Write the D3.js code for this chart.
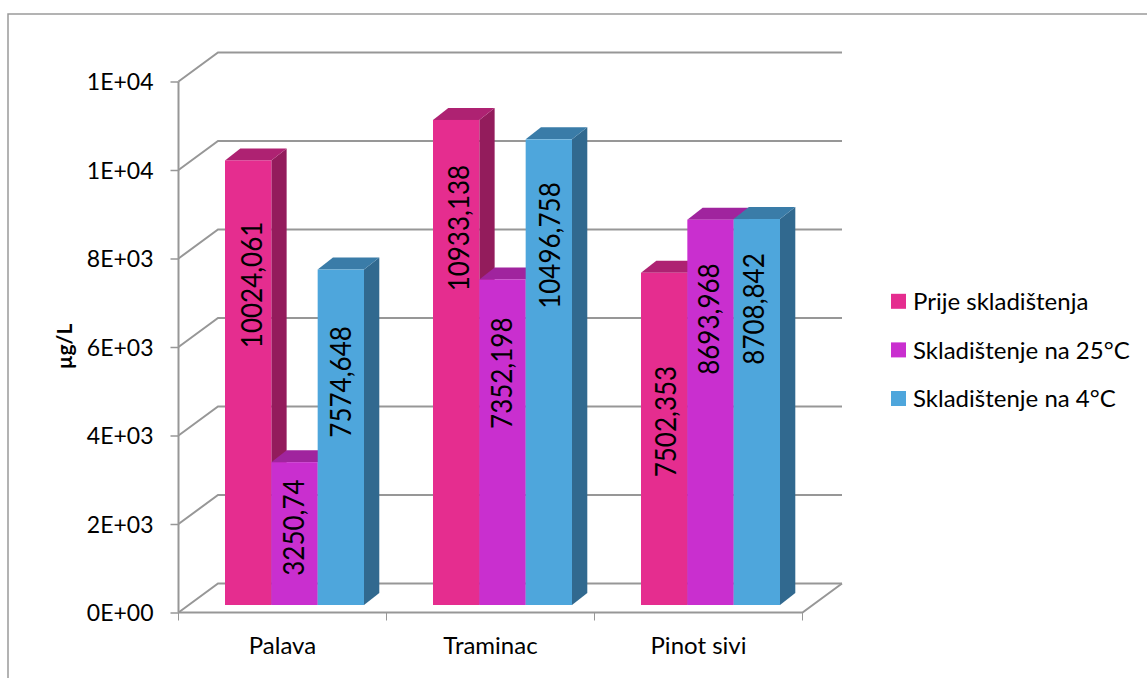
<!DOCTYPE html>
<html>
<head>
<meta charset="utf-8">
<style>
  html, body { margin: 0; padding: 0; background: #fff; }
  svg { display: block; }
  text { font-family: Lato, "Noto Sans", sans-serif; fill: #000; }
</style>
<script src="https://cdnjs.cloudflare.com/ajax/libs/d3/7.8.5/d3.min.js"></script>
</head>
<body>
<svg id="chart" width="1147" height="678"></svg>
<script>
  var categories = ['Palava', 'Traminac', 'Pinot sivi'];
  var seriesNames = ['Prije skladištenja', 'Skladištenje na 25°C', 'Skladištenje na 4°C'];
  var prije = [10024.061, 10933.138, 7502.353];
  var na25 = [3250.74, 7352.198, 8693.968];
  var na4 = [7574.648, 10496.758, 8708.842];
  var seriesValues = [prije, na25, na4];
  var valueLabels = [
    ['10024,061', '10933,138', '7502,353'],
    ['3250,74', '7352,198', '8693,968'],
    ['7574,648', '10496,758', '8708,842']
  ];
  // where the label centre sits along each bar (fraction of its height)
  var labelAlong = [
    [0.72, 0.777, 0.552],
    [0.542, 0.712, 0.742],
    [0.665, 0.772, 0.767]
  ];
  // sideways nudge of each label off the bar centre, px
  var labelNudge = [
    [3.5, 3, 1.5],
    [-1, -1.3, -2],
    [0, 0.7, -3]
  ];
  var yTicks = [0, 2000, 4000, 6000, 8000, 10000, 12000];
  var yTickLabels = ['0E+00', '2E+03', '4E+03', '6E+03', '8E+03', '1E+04', '1E+04'];

  var FRONT = ['#e52d8f', '#c92fcf', '#4ea6dc'];
  var SIDE = ['#931c5c', '#8a2090', '#31698f'];
  var TOP = ['#ae2272', '#a0249e', '#3a7ca8'];
  var GRID = '#979797';

  var svg = d3.select('#chart');

  // frame of the chart area, open on the right and at the bottom
  svg.append('path')
    .attr('d', 'M8,678V14H1147')
    .attr('fill', 'none')
    .attr('stroke', '#9a9a9a')
    .attr('stroke-width', 1.5);

  var x = d3.scaleBand().domain(categories).range([178.5, 802.5]);
  var y = d3.scaleLinear().domain([0, 12000]).range([612.5, 81.5]);
  var inner = d3.scaleBand().domain(d3.range(3)).range([46.5, 185.5]);
  // bars stand in front of the wall, so they run on their own slightly longer scale
  var yBar = d3.scaleLinear().domain([0, 12000]).range([607, 72.4]);

  // 3D offsets
  var wallDx = 39.5, wallDy = -29;
  var barDx = 15.3, barDy = -12, barBase = 605;

  var walls = svg.append('g')
    .attr('fill', 'none')
    .attr('stroke', GRID)
    .attr('stroke-width', 2);

  walls.selectAll('path.grid')
    .data(yTicks)
    .enter().append('path')
      .attr('class', 'grid')
      .attr('d', function (d) {
        return 'M178.5,' + y(d) + 'l' + wallDx + ',' + wallDy + 'H' + (802.5 + wallDx);
      });

  // floor front and right edge
  walls.append('path')
    .attr('d', 'M178.5,' + y(0) + 'H802.5l' + wallDx + ',' + wallDy);
  // left axis
  walls.append('path')
    .attr('d', 'M178.5,' + y(12000) + 'V' + y(0));

  var axisY = d3.axisLeft(y)
    .tickValues(yTicks)
    .tickSize(8)
    .tickPadding(17)
    .tickFormat(function (d, i) { return yTickLabels[i]; });

  var gy = svg.append('g')
    .attr('transform', 'translate(178.5,0)')
    .call(axisY);
  gy.select('.domain').remove();
  gy.selectAll('line').attr('stroke', GRID).attr('stroke-width', 1.5);
  gy.selectAll('text').style('font-size', '23px').attr('dy', '0.36em');

  var axisX = d3.axisBottom(x).tickSize(0).tickPadding(24);
  var gx = svg.append('g')
    .attr('transform', 'translate(0,' + y(0) + ')')
    .call(axisX);
  gx.select('.domain').remove();
  gx.selectAll('text').style('font-size', '24px');

  // tick marks between the categories
  svg.append('g').selectAll('line')
    .data(categories.concat(['end']))
    .enter().append('line')
      .attr('x1', function (d, i) { return 178.5 + i * x.bandwidth(); })
      .attr('x2', function (d, i) { return 178.5 + i * x.bandwidth(); })
      .attr('y1', y(0))
      .attr('y2', y(0) + 8)
      .attr('stroke', GRID);

  // bars are painted left to right so each one covers its neighbour's side
  var bars = svg.append('g');
  categories.forEach(function (cat, c) {
    seriesValues.forEach(function (vals, s) {
      var x0 = x(cat) + inner(s);
      var w = inner.bandwidth();
      var top = yBar(vals[c]);
      var g = bars.append('g');
      g.append('path')
        .attr('d', 'M' + (x0 + w) + ',' + barBase + 'l' + barDx + ',' + barDy + 'V' + (top + barDy) + 'l' + (-barDx) + ',' + (-barDy) + 'Z')
        .attr('fill', SIDE[s]);
      g.append('path')
        .attr('d', 'M' + x0 + ',' + top + 'l' + barDx + ',' + barDy + 'h' + w + 'l' + (-barDx) + ',' + (-barDy) + 'Z')
        .attr('fill', TOP[s]);
      g.append('rect')
        .attr('x', x0)
        .attr('y', top)
        .attr('width', w)
        .attr('height', barBase - top)
        .attr('fill', FRONT[s]);
    });
  });

  // labels go on top of every bar; stretched a bit since Lato digits are wider than tall here
  var labels = svg.append('g');
  categories.forEach(function (cat, c) {
    seriesValues.forEach(function (vals, s) {
      var cx = x(cat) + inner(s) + inner.bandwidth() / 2 + labelNudge[s][c];
      var cy = barBase - (barBase - yBar(vals[c])) * labelAlong[s][c];
      labels.append('text')
        .attr('transform', 'translate(' + cx + ',' + cy + ') rotate(-90) scale(1,1.1)')
        .attr('text-anchor', 'middle')
        .attr('dy', '0.36em')
        .style('font-size', '26px')
        .text(valueLabels[s][c]);
    });
  });

  // y axis title
  svg.append('text')
    .attr('transform', 'translate(72,346.5) rotate(-90)')
    .attr('text-anchor', 'middle')
    .style('font-size', '21px')
    .style('font-weight', 'bold')
    .text('µg/L');

  // legend
  var legendY = d3.scalePoint().domain(seriesNames).range([301.3, 398.5]);
  var legend = svg.append('g').selectAll('g')
    .data(seriesNames)
    .enter().append('g')
      .attr('transform', function (d) { return 'translate(891,' + legendY(d) + ')'; });
  legend.append('rect')
    .attr('y', -7.5)
    .attr('width', 15)
    .attr('height', 15)
    .attr('fill', function (d, i) { return FRONT[i]; });
  legend.append('text')
    .attr('x', 22)
    .attr('dy', '0.36em')
    .style('font-size', '24px')
    .text(function (d) { return d; });
</script>
</body>
</html>
